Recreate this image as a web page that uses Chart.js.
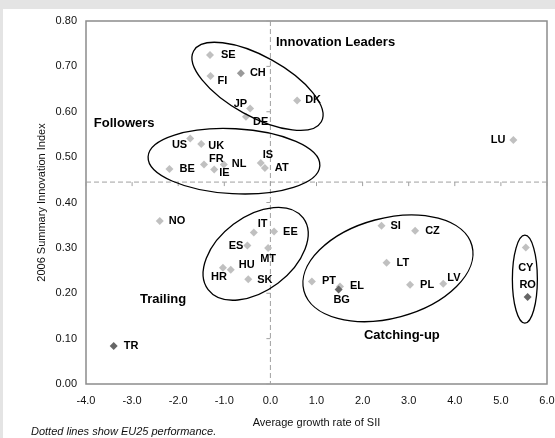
<!DOCTYPE html>
<html><head><meta charset="utf-8">
<script src="https://cdn.jsdelivr.net/npm/chart.js@4/dist/chart.umd.min.js"></script>
<style>html,body{margin:0;padding:0;background:#e4e4e4;overflow:hidden}canvas{position:absolute;left:0;top:0}</style>
</head><body>
<canvas id="c" width="555" height="438"></canvas>
<script>
// ---- data ----
const countries = ['SE','FI','CH','JP','DE','DK','US','UK','BE','FR','IE','NL','IS','AT','LU','NO','TR','IT','EE','ES','MT','HR','HU','SK','SI','CZ','LT','PT','EL','BG','PL','LV','CY','RO'];
const growthRate = [-1.31,-1.30,-0.64,-0.44,-0.53,0.58,-1.74,-1.50,-2.19,-1.44,-1.22,-1.01,-0.21,-0.12,5.27,-2.40,-3.40,-0.36,0.08,-0.50,-0.05,-1.03,-0.86,-0.48,2.41,3.14,2.52,0.90,1.51,1.48,3.03,3.75,5.54,5.58];
const summaryIndex = [0.725,0.679,0.685,0.607,0.589,0.625,0.541,0.529,0.474,0.484,0.473,0.484,0.487,0.476,0.538,0.359,0.084,0.334,0.336,0.305,0.300,0.256,0.252,0.231,0.349,0.338,0.267,0.226,0.215,0.208,0.219,0.221,0.301,0.192];
const xTickValues = [-4,-3,-2,-1,0,1,2,3,4,5,6];
const yTickValues = [0,0.1,0.2,0.3,0.4,0.5,0.6,0.7,0.8];
const eu25Growth = 0.0;
const eu25Index = 0.445;
const darkCountries = ['TR','BG','RO'];
const midCountries = ['CH'];
const groupNames = ['Innovation Leaders','Followers','Trailing','Catching-up'];
const groupAnchors = [[0.12,0.752],[-3.83,0.574],[-2.83,0.186],[2.03,0.108]];

// ---- presentation ----
const FONT = "Arial, 'Liberation Sans', Helvetica, sans-serif";
const labelOffsets = {SE:[11,0,'left'],FI:[7,5,'left'],CH:[9,0,'left'],JP:[-3,-5,'right'],DE:[7,5,'left'],DK:[8,0,'left'],
 US:[-3,6,'right'],UK:[7,2,'left'],BE:[10,0,'left'],FR:[5,-5,'left'],IE:[5,4,'left'],NL:[8,0,'left'],IS:[2,-8,'left'],AT:[10,0,'left'],
 LU:[-8,0,'right'],NO:[9,0,'left'],TR:[10,0,'left'],IT:[4,-8,'left'],EE:[9,0,'left'],ES:[-4,0,'right'],MT:[0,11,'center'],HR:[-4,9,'center'],
 HU:[8,-5,'left'],SK:[9,1,'left'],SI:[9,0,'left'],CZ:[10,0,'left'],LT:[10,0,'left'],PT:[10,0,'left'],EL:[10,0,'left'],BG:[3,10,'center'],
 PL:[10,0,'left'],LV:[4,-6,'left'],CY:[0,21,'center'],RO:[0,-12,'center']};
const ellipses = [
 {cx:-0.28, cy:0.656, a:73, b:30, rot:29},
 {cx:-0.79, cy:0.491, a:86, b:32.5, rot:3},
 {cx:-0.32, cy:0.287, a:59.5, b:37, rot:-37},
 {cx:2.55, cy:0.255, a:87, b:50, rot:-15},
 {cx:5.52, cy:0.231, a:12.5, b:44, rot:0}
];

const points = countries.map((c,i)=>({x:growthRate[i], y:summaryIndex[i]}));
const colors = countries.map(c => darkCountries.includes(c) ? '#666666' : (midCountries.includes(c) ? '#999999' : '#c0c0c0'));

const decor = {
  id:'decor',
  beforeDraw(chart){
    const ctx = chart.ctx;
    ctx.save();
    ctx.fillStyle = '#e4e4e4'; ctx.fillRect(0,0,chart.width,chart.height);
    ctx.fillStyle = '#ffffff'; ctx.fillRect(3,9,chart.width-3,chart.height-9);
    ctx.restore();
  },
  beforeDatasetsDraw(chart){
    const {ctx, chartArea:a, scales:{x,y}} = chart;
    ctx.save();
    ctx.strokeStyle = '#8c8c8c'; ctx.lineWidth = 1.5;
    ctx.strokeRect(a.left, a.top, a.right-a.left, a.bottom-a.top);
    const ex = x.getPixelForValue(eu25Growth), ey = y.getPixelForValue(eu25Index);
    ctx.strokeStyle = '#a0a0a0'; ctx.lineWidth = 1; ctx.setLineDash([5,3]);
    ctx.beginPath(); ctx.moveTo(a.left, ey); ctx.lineTo(a.right, ey); ctx.stroke();
    ctx.beginPath(); ctx.moveTo(ex, a.top); ctx.lineTo(ex, a.bottom); ctx.stroke();
    ctx.setLineDash([]);
    ctx.beginPath();
    xTickValues.forEach(v=>{const px=x.getPixelForValue(v); ctx.moveTo(px, ey); ctx.lineTo(px, ey+4);});
    yTickValues.forEach(v=>{const py=y.getPixelForValue(v); ctx.moveTo(ex-4, py); ctx.lineTo(ex, py);});
    ctx.stroke();
    ctx.restore();
  },
  afterDatasetsDraw(chart){
    const {ctx, scales:{x,y}} = chart;
    ctx.save();
    ctx.strokeStyle = '#000'; ctx.lineWidth = 1.3;
    ellipses.forEach(e=>{
      ctx.beginPath();
      ctx.ellipse(x.getPixelForValue(e.cx), y.getPixelForValue(e.cy), e.a, e.b, e.rot*Math.PI/180, 0, Math.PI*2);
      ctx.stroke();
    });
    const meta = chart.getDatasetMeta(0);
    ctx.fillStyle = '#000'; ctx.font = 'bold 11px ' + FONT; ctx.textBaseline = 'middle';
    meta.data.forEach((pt,i)=>{
      const o = labelOffsets[countries[i]] || [8,0,'left'];
      ctx.textAlign = o[2];
      ctx.fillText(countries[i], pt.x + o[0], pt.y + o[1]);
    });
    ctx.font = 'bold 13px ' + FONT; ctx.textAlign = 'left';
    groupNames.forEach((g,i)=>{
      ctx.fillText(g, x.getPixelForValue(groupAnchors[i][0]), y.getPixelForValue(groupAnchors[i][1]));
    });
    ctx.font = 'italic 11px ' + FONT; ctx.fillStyle = '#111';
    ctx.fillText('Dotted lines show EU25 performance.', 31, 432);
    ctx.restore();
  }
};

new Chart(document.getElementById('c'), {
  type:'scatter',
  data:{datasets:[{data:points, pointStyle:'rectRot', pointRadius:4, pointBackgroundColor:colors, pointBorderWidth:0, pointBorderColor:colors}]},
  options:{
    responsive:false, animation:false, devicePixelRatio:1,
    layout:{padding:{left:30, top:21, right:8, bottom:8}},
    plugins:{legend:{display:false}, tooltip:{enabled:false}},
    scales:{
      x:{type:'linear', min:-4, max:6,
         afterFit(s){ s.height = 46; s.paddingLeft = 0; s.paddingRight = 0; },
         afterBuildTicks(s){ s.ticks = xTickValues.map(v=>({value:v})); },
         grid:{display:false, drawTicks:false}, border:{display:false},
         ticks:{padding:10, color:'#111', font:{family:FONT, size:11}, callback:v=>Number(v).toFixed(1), maxRotation:0},
         title:{display:true, text:'Average growth rate of SII', color:'#111', font:{family:FONT, size:11}, padding:{top:0,bottom:0}}},
      y:{type:'linear', min:0, max:0.8,
         afterFit(s){ s.width = 56; s.paddingTop = 0; s.paddingBottom = 0; },
         afterBuildTicks(s){ s.ticks = yTickValues.map(v=>({value:v})); },
         grid:{display:false, drawTicks:false}, border:{display:false},
         ticks:{padding:9, color:'#111', font:{family:FONT, size:11}, callback:v=>Number(v).toFixed(2)},
         title:{display:true, text:'2006 Summary Innovation Index', color:'#111', font:{family:FONT, size:11}, padding:{top:5,bottom:0}}}
    }
  },
  plugins:[decor]
});
</script>
</body></html>
